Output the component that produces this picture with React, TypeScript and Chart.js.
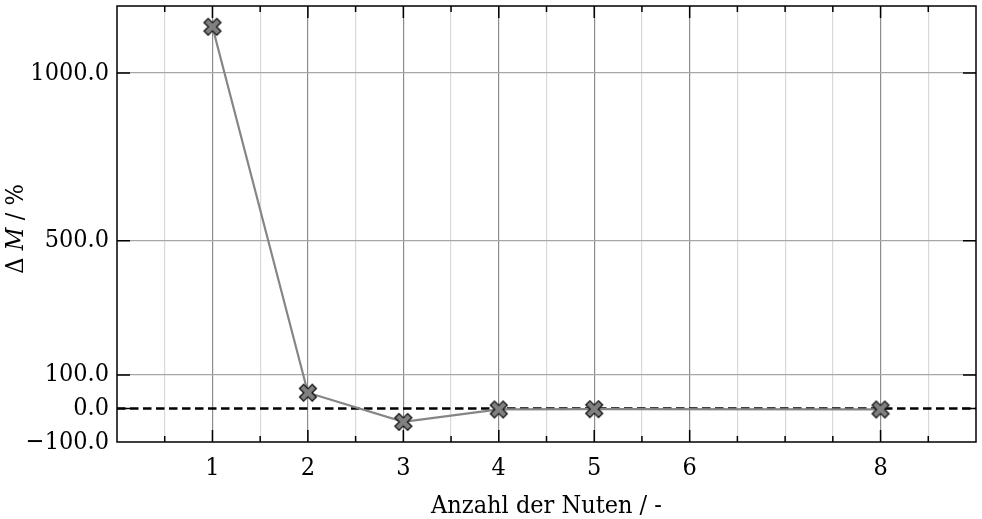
import React, { useEffect, useRef } from 'react';
import { Chart, registerables } from 'chart.js';

Chart.register(...registerables);

// ---- data ----
const NUTEN = [1, 2, 3, 4, 5, 8];
const DELTA_M = [1138, 47, -40, -3, -2, -3];

const X_MIN = 0;
const X_MAX = 9;
const X_TICKS = [0, 0.5, 1, 1.5, 2, 2.5, 3, 3.5, 4, 4.5, 5, 5.5, 6, 6.5, 7, 7.5, 8, 8.5, 9];
const X_LABELED = [1, 2, 3, 4, 5, 6, 8];

const Y_MIN = -100;
const Y_MAX = 1200;
const Y_TICKS = [-100, 0, 100, 500, 1000];
const ZERO_LINE = 0;

const X_TITLE = 'Anzahl der Nuten / -';
const Y_TITLE_PARTS: [string, boolean][] = [['Δ ', false], ['M', true], [' / %', false]];

const FAMILY = "'DejaVu Serif Condensed', 'DejaVu Serif', serif";
const TICK_SIZE = 25;
const TITLE_SIZE = 25;

function makeMarker(): HTMLCanvasElement {
  const c = document.createElement('canvas');
  c.width = 24;
  c.height = 24;
  const g = c.getContext('2d')!;
  const L = 9;
  const t = 2.9;
  const pts = [[t, L], [t, t], [L, t], [L, -t], [t, -t], [t, -L], [-t, -L], [-t, -t], [-L, -t], [-L, t], [-t, t], [-t, L]];
  const a = Math.PI / 4;
  const ca = Math.cos(a);
  const sa = Math.sin(a);
  g.beginPath();
  pts.forEach(([px, py], i) => {
    const x = 12 + px * ca - py * sa;
    const y = 12 + px * sa + py * ca;
    if (i) g.lineTo(x, y);
    else g.moveTo(x, y);
  });
  g.closePath();
  g.fillStyle = '#808080';
  g.fill();
  g.lineWidth = 1.3;
  g.strokeStyle = '#111';
  g.stroke();
  return c;
}

const framePlugin = {
  id: 'frame',
  beforeDatasetsDraw(chart: any) {
    const { ctx, chartArea: a, scales } = chart;
    const y0 = scales.y.getPixelForValue(ZERO_LINE);
    ctx.save();
    ctx.setLineDash([8.5, 4.5]);
    ctx.lineWidth = 2.5;
    ctx.strokeStyle = '#000';
    ctx.beginPath();
    ctx.moveTo(a.left, y0);
    ctx.lineTo(a.right, y0);
    ctx.stroke();
    ctx.restore();
  },
  afterDraw(chart: any) {
    const { ctx, chartArea: a, scales } = chart;
    ctx.save();
    ctx.strokeStyle = '#000';
    ctx.lineWidth = 1.5;
    ctx.strokeRect(a.left, a.top, a.right - a.left, a.bottom - a.top);
    ctx.beginPath();
    X_TICKS.forEach((v) => {
      if (v === X_MIN || v === X_MAX) return;
      const px = scales.x.getPixelForValue(v);
      const len = X_LABELED.includes(v) ? 12 : 6;
      ctx.moveTo(px, a.bottom);
      ctx.lineTo(px, a.bottom - len);
      ctx.moveTo(px, a.top);
      ctx.lineTo(px, a.top + len);
    });
    Y_TICKS.forEach((v) => {
      if (v === Y_MIN) return;
      const py = scales.y.getPixelForValue(v);
      ctx.moveTo(a.left, py);
      ctx.lineTo(a.left + 13, py);
      ctx.moveTo(a.right, py);
      ctx.lineTo(a.right - 13, py);
    });
    ctx.stroke();
    // y title with italic M
    const cx = 16;
    const cy = 229;
    ctx.translate(cx, cy);
    ctx.rotate(-Math.PI / 2);
    ctx.fillStyle = '#000';
    ctx.textBaseline = 'middle';
    ctx.textAlign = 'left';
    const fonts = Y_TITLE_PARTS.map(([, it]) => `${it ? 'italic ' : ''}${TITLE_SIZE}px ${FAMILY}`);
    let total = 0;
    const widths = Y_TITLE_PARTS.map(([s], i) => {
      ctx.font = fonts[i];
      const w = ctx.measureText(s).width;
      total += w;
      return w;
    });
    let x = -total / 2;
    Y_TITLE_PARTS.forEach(([s], i) => {
      ctx.font = fonts[i];
      ctx.fillText(s, x, 0);
      x += widths[i];
    });
    ctx.restore();
  },
};

export default function App() {
  const ref = useRef<HTMLCanvasElement | null>(null);
  useEffect(() => {
    document.body.style.margin = '0';
    const marker = makeMarker();
    const chart = new Chart(ref.current!, {
      type: 'line',
      data: {
        datasets: [
          {
            data: NUTEN.map((n, i) => ({ x: n, y: DELTA_M[i] })),
            borderColor: '#858585',
            borderWidth: 2.2,
            pointStyle: marker as any,
            pointRadius: 9,
            pointHoverRadius: 9,
            tension: 0,
          },
        ],
      },
      options: {
        animation: false,
        responsive: true,
        maintainAspectRatio: false,
        layout: { autoPadding: false, padding: { top: 6, right: 6, left: 0, bottom: 0 } },
        plugins: { legend: { display: false }, tooltip: { enabled: false } },
        scales: {
          x: {
            type: 'linear',
            min: X_MIN,
            max: X_MAX,
            afterBuildTicks: (s: any) => {
              s.ticks = X_TICKS.map((v) => ({ value: v }));
            },
            afterFit: (s: any) => {
              s.height = 77;
              s.paddingLeft = 0;
              s.paddingRight = 0;
            },
            border: { display: false },
            grid: {
              drawTicks: false,
              lineWidth: 1.2,
              color: (c: any) => {
                const v = c.tick?.value;
                if (v === X_MIN || v === X_MAX) return 'rgba(0,0,0,0)';
                return X_LABELED.includes(v) ? '#8c8c8c' : '#d9d9d9';
              },
            },
            ticks: {
              autoSkip: false,
              maxRotation: 0,
              padding: 11,
              color: '#000',
              font: { family: FAMILY, size: TICK_SIZE },
              callback: (v: any) => (X_LABELED.includes(Number(v)) ? String(v) : ''),
            },
            title: {
              display: true,
              text: X_TITLE,
              color: '#000',
              font: { family: FAMILY, size: TITLE_SIZE },
              padding: { top: 0, bottom: -2 },
            },
          },
          y: {
            type: 'linear',
            min: Y_MIN,
            max: Y_MAX,
            afterBuildTicks: (s: any) => {
              s.ticks = Y_TICKS.map((v) => ({ value: v }));
            },
            afterFit: (s: any) => {
              s.width = 117;
              s.paddingTop = 0;
              s.paddingBottom = 0;
            },
            border: { display: false },
            grid: {
              drawTicks: false,
              lineWidth: 1.2,
              color: (c: any) => {
                const v = c.tick?.value;
                if (v === Y_MIN || v === ZERO_LINE) return 'rgba(0,0,0,0)';
                return '#a6a6a6';
              },
            },
            ticks: {
              padding: 8,
              color: '#000',
              font: { family: FAMILY, size: TICK_SIZE },
              callback: (v: any) => Number(v).toFixed(1).replace('-', '\u2212'),
            },
          },
        },
      },
      plugins: [framePlugin],
    });
    return () => chart.destroy();
  }, []);
  return (
    <div style={{ position: 'relative', width: 982, height: 519 }}>
      <canvas ref={ref} />
    </div>
  );
}
